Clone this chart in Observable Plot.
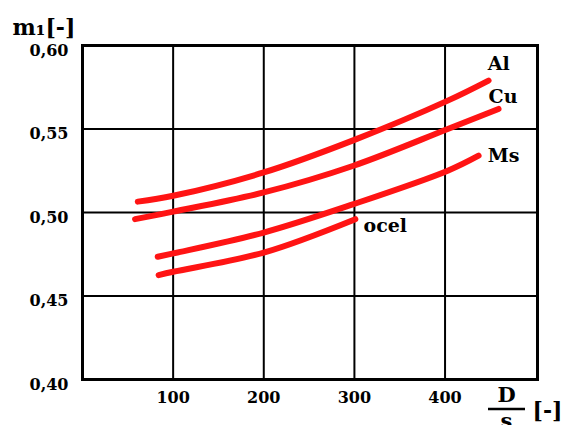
<!DOCTYPE html>
<html><head><meta charset="utf-8">
<script src="https://cdn.jsdelivr.net/npm/d3@7"></script>
<script src="https://cdn.jsdelivr.net/npm/@observablehq/plot@0.6"></script>
<style>body{margin:0;background:#fff}</style>
</head><body><div id="chart"></div>
<script>
// Data
const alX = [61, 100, 200, 300, 403, 448];
const alY = [0.5065, 0.510, 0.524, 0.5435, 0.567, 0.579];
const cuX = [58, 100, 200, 299, 403, 459];
const cuY = [0.496, 0.5005, 0.512, 0.528, 0.550, 0.562];
const msX = [83, 100, 200, 299, 403, 437];
const msY = [0.4735, 0.4755, 0.488, 0.505, 0.525, 0.534];
const ocelX = [84, 100, 200, 301];
const ocelY = [0.4625, 0.4645, 0.476, 0.496];

const labelNames = ["Al", "Cu", "Ms", "ocel"];
const labelX = [447, 448, 447, 310];
const labelY = [0.589, 0.569, 0.534, 0.492];

const xTicks = [100, 200, 300, 400];
const yTicks = [0.40, 0.45, 0.50, 0.55, 0.60];
const yGrid = [0.45, 0.50, 0.55];

const series = [
  {name: "Al", x: alX, y: alY},
  {name: "Cu", x: cuX, y: cuY},
  {name: "Ms", x: msX, y: msY},
  {name: "ocel", x: ocelX, y: ocelY}
];
const rows = series.flatMap(s => s.x.map((x, i) => ({metal: s.name, x, y: s.y[i]})));
const labels = labelNames.map((n, i) => ({text: n, x: labelX[i], y: labelY[i]}));

const FONT = "'DejaVu Serif', 'Liberation Serif', serif";

const plot = Plot.plot({
  width: 565, height: 425,
  marginLeft: 82, marginRight: 28, marginTop: 45, marginBottom: 46,
  style: {fontFamily: FONT, fontWeight: "bold", color: "#000", background: "#fff", overflow: "visible"},
  x: {domain: [0, 502]},
  y: {domain: [0.40, 0.60]},
  marks: [
    Plot.gridX(xTicks, {stroke: "#000", strokeOpacity: 1, strokeWidth: 2}),
    Plot.gridY(yGrid, {stroke: "#000", strokeOpacity: 1, strokeWidth: 2}),
    Plot.frame({stroke: "#000", strokeWidth: 3}),
    Plot.axisX(xTicks, {tickSize: 0, tickPadding: 12, label: null, fontSize: 16, fontWeight: "bold", tickFormat: d => String(d)}),
    Plot.axisY(yTicks, {tickSize: 0, tickPadding: 14, dy: 5, label: null, fontSize: 16, fontWeight: "bold", tickFormat: d => d.toFixed(2).replace(".", ",")}),
    Plot.line(rows, {x: "x", y: "y", z: "metal", stroke: "#ff1414", strokeWidth: 6, curve: "catmull-rom", strokeLinecap: "round"}),
    Plot.text(labels, {x: "x", y: "y", text: "text", textAnchor: "start", fontSize: 19, fontWeight: "bold", fill: "#000"}),
    Plot.text(["m₁[-]"], {frameAnchor: "top-left", dx: -70, dy: -18, textAnchor: "start", lineAnchor: "middle", fontSize: 22, fontWeight: "bold", fill: "#000"}),
    Plot.text(["D"], {frameAnchor: "bottom-right", dx: -31, dy: 16, textAnchor: "middle", lineAnchor: "middle", fontSize: 21, fontWeight: "bold", fill: "#000"}),
    Plot.text(["s"], {frameAnchor: "bottom-right", dx: -31, dy: 34, textAnchor: "middle", lineAnchor: "top", fontSize: 21, fontWeight: "bold", fill: "#000"}),
    Plot.text(["[-]"], {frameAnchor: "bottom-right", dx: 10, dy: 31, textAnchor: "middle", lineAnchor: "middle", fontSize: 22, fontWeight: "bold", fill: "#000"})
  ]
});
document.getElementById("chart").appendChild(plot);
// fraction bar for D/s
d3.select(plot).append("line")
  .attr("x1", 488).attr("x2", 525).attr("y1", 409).attr("y2", 409)
  .attr("stroke", "#000").attr("stroke-width", 2.5);
</script>
</body></html>
